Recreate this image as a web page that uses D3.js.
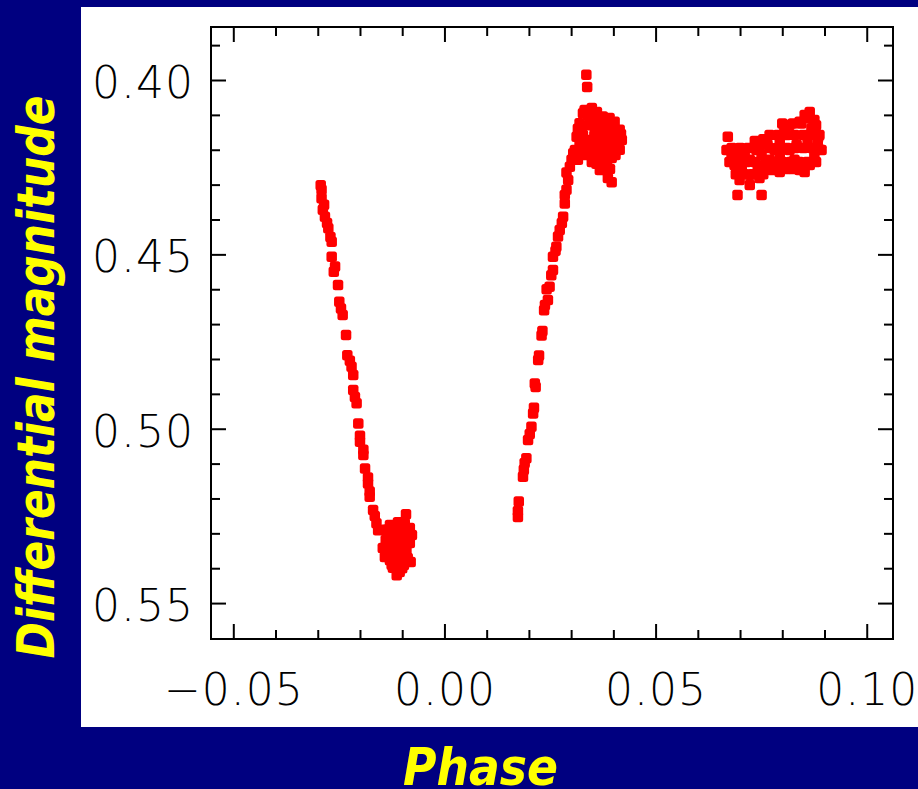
<!DOCTYPE html>
<html>
<head>
<meta charset="utf-8">
<script src="https://cdn.jsdelivr.net/npm/d3@7"></script>
<style>
  html, body { margin: 0; padding: 0; background: #000080; overflow: hidden; }
  svg { display: block; }
</style>
</head>
<body>
<svg id="chart" width="918" height="789"></svg>
<script>
// ---------- data (phase, differential magnitude) ----------
const descendingBranch = [
  [-0.0293,0.4302],[-0.0291,0.4315],[-0.0291,0.4339],[-0.0285,0.4358],[-0.0288,0.4372],
  [-0.0283,0.4392],[-0.0278,0.4410],[-0.0275,0.4425],[-0.0270,0.4450],[-0.0267,0.4464],
  [-0.0267,0.4507],[-0.0259,0.4535],[-0.0262,0.4550],[-0.0252,0.4588],[-0.0249,0.4636],
  [-0.0245,0.4655],[-0.0241,0.4674],[-0.0233,0.4731],[-0.0230,0.4789],[-0.0224,0.4805],
  [-0.0220,0.4822],[-0.0216,0.4846],[-0.0216,0.4889],[-0.0212,0.4909],[-0.0208,0.4927],
  [-0.0204,0.4985],[-0.0200,0.5020],[-0.0200,0.5037],[-0.0192,0.5060],[-0.0192,0.5075],
  [-0.0188,0.5114],[-0.0181,0.5140],[-0.0181,0.5157],[-0.0177,0.5180],[-0.0177,0.5195],
  [-0.0169,0.5233],[-0.0165,0.5250],[-0.0161,0.5271],[-0.0157,0.5291]
];
const minimumCluster = [
  [-0.0141,0.5290],[-0.0129,0.5276],[-0.0110,0.5268],[-0.0094,0.5270],[-0.0082,0.5285],
  [-0.0077,0.5305],[-0.0082,0.5328],[-0.0094,0.5342],[-0.0110,0.5319],[-0.0124,0.5305],
  [-0.0139,0.5319],[-0.0146,0.5342],[-0.0134,0.5356],[-0.0117,0.5348],[-0.0101,0.5362],
  [-0.0087,0.5371],[-0.0080,0.5382],[-0.0096,0.5391],[-0.0115,0.5382],[-0.0129,0.5377],
  [-0.0141,0.5368],[-0.0122,0.5399],[-0.0106,0.5411],[-0.0113,0.5420],[-0.0091,0.5245],
  [-0.0101,0.5296],[-0.0117,0.5328],[-0.0106,0.5336],
  [-0.0135,0.5290],[-0.0120,0.5290],[-0.0105,0.5290],[-0.0090,0.5290],
  [-0.0135,0.5310],[-0.0120,0.5310],[-0.0105,0.5310],[-0.0090,0.5310],
  [-0.0135,0.5330],[-0.0120,0.5330],[-0.0105,0.5330],[-0.0090,0.5330],
  [-0.0135,0.5350],[-0.0120,0.5350],[-0.0105,0.5350],[-0.0090,0.5350],
  [-0.0130,0.5370],[-0.0118,0.5370],[-0.0105,0.5370],[-0.0092,0.5370],
  [-0.0125,0.5390],[-0.0112,0.5395],[-0.0100,0.5400]
];
const ascendingBranch = [
  [0.0174,0.5253],[0.0174,0.5236],[0.0176,0.5209],[0.0186,0.5138],[0.0188,0.5118],
  [0.0190,0.5098],[0.0194,0.5085],[0.0198,0.5032],[0.0202,0.5015],[0.0206,0.4994],
  [0.0210,0.4956],[0.0212,0.4940],[0.0214,0.4870],[0.0216,0.4880],[0.0222,0.4803],
  [0.0224,0.4790],[0.0230,0.4733],[0.0232,0.4720],[0.0236,0.4660],[0.0238,0.4645],
  [0.0245,0.4631],[0.0242,0.4600],[0.0249,0.4593],[0.0253,0.4560],[0.0257,0.4545],
  [0.0257,0.4507],[0.0263,0.4490],[0.0265,0.4478],[0.0269,0.4449],[0.0273,0.4430],
  [0.0278,0.4410],[0.0281,0.4392],[0.0285,0.4354],[0.0285,0.4330],[0.0289,0.4315],
  [0.0293,0.4287],[0.0289,0.4265],[0.0297,0.4249],[0.0301,0.4229],[0.0305,0.4210],
  [0.0309,0.4201],[0.0313,0.4163],[0.0316,0.4140],[0.0320,0.4124],[0.0328,0.4095]
];
const peakPoints = [[0.0336,0.3985],[0.0338,0.4020]];
const shoulderCluster = [
  [0.0332,0.4086],[0.0349,0.4080],[0.0361,0.4092],[0.0391,0.4109],[0.0403,0.4120],
  [0.0415,0.4143],[0.0420,0.4172],[0.0410,0.4201],[0.0396,0.4224],[0.0380,0.4244],
  [0.0368,0.4258],[0.0387,0.4281],[0.0396,0.4293],[0.0344,0.4115],[0.0356,0.4138],
  [0.0375,0.4158],[0.0391,0.4178],[0.0368,0.4195],[0.0344,0.4172],[0.0328,0.4158],
  [0.0337,0.4201],[0.0356,0.4224],[0.0380,0.4215],[0.0403,0.4172],[0.0320,0.4186],
  [0.0316,0.4229],[0.0349,0.4235],[0.0387,0.4129],[0.0363,0.4109],[0.0320,0.4138],
  [0.0340,0.4100],[0.0355,0.4100],[0.0370,0.4120],[0.0385,0.4140],[0.0400,0.4150],
  [0.0410,0.4160],[0.0340,0.4130],[0.0355,0.4160],[0.0370,0.4140],[0.0385,0.4165],
  [0.0400,0.4195],[0.0410,0.4185],[0.0335,0.4185],[0.0350,0.4195],[0.0365,0.4175],
  [0.0380,0.4190],[0.0395,0.4210],[0.0330,0.4215],[0.0345,0.4215],[0.0365,0.4215],
  [0.0385,0.4235],[0.0375,0.4230],[0.0360,0.4240],[0.0392,0.4255],[0.0405,0.4215],
  [0.0415,0.4200],[0.0418,0.4155],[0.0395,0.4125],[0.0375,0.4105],[0.0348,0.4090]
];
const plateauCluster = [
  [0.0671,0.4163],[0.0668,0.4201],[0.0680,0.4224],[0.0694,0.4206],[0.0711,0.4215],
  [0.0723,0.4229],[0.0739,0.4201],[0.0751,0.4215],[0.0765,0.4186],[0.0770,0.4229],
  [0.0782,0.4201],[0.0794,0.4172],[0.0805,0.4143],[0.0817,0.4129],[0.0829,0.4158],
  [0.0841,0.4120],[0.0853,0.4100],[0.0865,0.4092],[0.0876,0.4115],[0.0888,0.4158],
  [0.0884,0.4186],[0.0876,0.4215],[0.0865,0.4244],[0.0853,0.4264],[0.0841,0.4258],
  [0.0829,0.4229],[0.0817,0.4201],[0.0805,0.4244],[0.0794,0.4264],[0.0775,0.4258],
  [0.0758,0.4244],[0.0742,0.4252],[0.0723,0.4272],[0.0704,0.4258],[0.0687,0.4244],
  [0.0699,0.4287],[0.0723,0.4301],[0.0694,0.4330],[0.0751,0.4330],[0.0746,0.4281],
  [0.0834,0.4186],[0.0860,0.4172],[0.0794,0.4215],[0.0869,0.4138],[0.0893,0.4201],
  [0.0680,0.4195],[0.0700,0.4195],[0.0720,0.4195],[0.0745,0.4195],[0.0770,0.4195],
  [0.0790,0.4195],[0.0810,0.4195],[0.0830,0.4195],[0.0850,0.4195],[0.0870,0.4195],
  [0.0885,0.4195],
  [0.0675,0.4235],[0.0695,0.4235],[0.0715,0.4235],[0.0735,0.4235],[0.0760,0.4235],
  [0.0780,0.4235],[0.0800,0.4235],[0.0820,0.4235],[0.0840,0.4235],[0.0860,0.4235],
  [0.0880,0.4235],
  [0.0690,0.4270],[0.0710,0.4270],[0.0730,0.4270],[0.0755,0.4270],[0.0785,0.4255],
  [0.0810,0.4255],[0.0825,0.4255],[0.0845,0.4250],
  [0.0735,0.4175],[0.0755,0.4170],[0.0770,0.4158],[0.0790,0.4158],[0.0810,0.4158],
  [0.0850,0.4158],[0.0870,0.4158],[0.0885,0.4165],
  [0.0800,0.4125],[0.0825,0.4125],[0.0845,0.4125],[0.0860,0.4110],[0.0880,0.4130]
];

const xMajorTicks = [-0.05, 0.00, 0.05, 0.10];
const xMinorTicks = [-0.04, -0.03, -0.02, -0.01, 0.01, 0.02, 0.03, 0.04, 0.06, 0.07, 0.08, 0.09];
const yMajorTicks = [0.40, 0.45, 0.50, 0.55];
const yMinorTicks = [0.39, 0.41, 0.42, 0.43, 0.44, 0.46, 0.47, 0.48, 0.49, 0.51, 0.52, 0.53, 0.54];
const xTitle = "Phase";
const yTitle = "Differential magnitude";

// ---------- layout ----------
const svg = d3.select("#chart");
const W = 918, H = 789;
const plot = { left: 211, right: 893, top: 27, bottom: 639 };

svg.append("rect").attr("x", 0).attr("y", 0).attr("width", W).attr("height", H).attr("fill", "#000080");
svg.append("rect").attr("x", 81).attr("y", 7).attr("width", W - 81).attr("height", 720).attr("fill", "#ffffff");

const x = d3.scaleLinear().domain([-0.05528, 0.10622]).range([plot.left, plot.right]);
const y = d3.scaleLinear().domain([0.3848, 0.5603]).range([plot.top, plot.bottom]);

const fmt = d3.format(".2f");
const labelFont = "'DejaVu Sans', sans-serif";

function styleAxis(g) {
  g.select(".domain").remove();
  g.selectAll(".tick line").attr("stroke", "#000").attr("stroke-width", 2);
}

// bottom axis (labels)
const gB = svg.append("g").attr("transform", `translate(0,${plot.bottom})`)
  .call(d3.axisBottom(x).tickValues(xMajorTicks).tickSizeInner(-15).tickSizeOuter(0).tickFormat(fmt));
styleAxis(gB);
gB.selectAll(".tick text").attr("y", 66).attr("dy", 0)
  .attr("font-family", labelFont).attr("font-weight", 200).attr("font-size", 44)
  .attr("letter-spacing", 1).attr("fill", "#000");
svg.append("g").attr("transform", `translate(0,${plot.bottom})`)
  .call(d3.axisBottom(x).tickValues(xMinorTicks).tickSizeInner(-9).tickSizeOuter(0).tickFormat(""))
  .call(styleAxis);
// top axis (mirror)
svg.append("g").attr("transform", `translate(0,${plot.top})`)
  .call(d3.axisTop(x).tickValues(xMajorTicks).tickSizeInner(-15).tickSizeOuter(0).tickFormat(""))
  .call(styleAxis);
svg.append("g").attr("transform", `translate(0,${plot.top})`)
  .call(d3.axisTop(x).tickValues(xMinorTicks).tickSizeInner(-9).tickSizeOuter(0).tickFormat(""))
  .call(styleAxis);

// left axis (labels)
const gL = svg.append("g").attr("transform", `translate(${plot.left},0)`)
  .call(d3.axisLeft(y).tickValues(yMajorTicks).tickSizeInner(-15).tickSizeOuter(0).tickFormat(fmt));
styleAxis(gL);
gL.selectAll(".tick text").attr("x", -17).attr("dy", "0.40em")
  .attr("font-family", labelFont).attr("font-weight", 200).attr("font-size", 44)
  .attr("letter-spacing", 1).attr("fill", "#000");
svg.append("g").attr("transform", `translate(${plot.left},0)`)
  .call(d3.axisLeft(y).tickValues(yMinorTicks).tickSizeInner(-9).tickSizeOuter(0).tickFormat(""))
  .call(styleAxis);
// right axis (mirror)
svg.append("g").attr("transform", `translate(${plot.right},0)`)
  .call(d3.axisRight(y).tickValues(yMajorTicks).tickSizeInner(-15).tickSizeOuter(0).tickFormat(""))
  .call(styleAxis);
svg.append("g").attr("transform", `translate(${plot.right},0)`)
  .call(d3.axisRight(y).tickValues(yMinorTicks).tickSizeInner(-9).tickSizeOuter(0).tickFormat(""))
  .call(styleAxis);

// frame
svg.append("rect")
  .attr("x", plot.left).attr("y", plot.top)
  .attr("width", plot.right - plot.left).attr("height", plot.bottom - plot.top)
  .attr("fill", "none").attr("stroke", "#000").attr("stroke-width", 2);

// points (small filled squares, as in the original plot symbol)
const allPoints = [].concat(descendingBranch, minimumCluster, ascendingBranch, peakPoints, shoulderCluster, plateauCluster);
const ms = 10.5;
svg.append("g").selectAll("rect")
  .data(allPoints)
  .join("rect")
  .attr("x", d => x(d[0]) - ms / 2)
  .attr("y", d => y(d[1]) - ms / 2)
  .attr("width", ms).attr("height", ms)
  .attr("rx", 2.5)
  .attr("fill", "#ff0000");

// titles
svg.append("text")
  .attr("x", 480.5).attr("y", 785)
  .attr("text-anchor", "middle")
  .attr("font-family", "'DejaVu Sans', sans-serif")
  .attr("font-weight", "bold").attr("font-style", "oblique")
  .attr("font-size", 51).attr("fill", "#ffff00")
  .attr("textLength", 155).attr("lengthAdjust", "spacingAndGlyphs")
  .text(xTitle);

svg.append("text")
  .attr("transform", "translate(54,377) rotate(-90)")
  .attr("text-anchor", "middle")
  .attr("font-family", "'DejaVu Sans', sans-serif")
  .attr("font-weight", "bold").attr("font-style", "oblique")
  .attr("font-size", 51).attr("fill", "#ffff00")
  .attr("textLength", 563).attr("lengthAdjust", "spacingAndGlyphs")
  .text(yTitle);
</script>
</body>
</html>
